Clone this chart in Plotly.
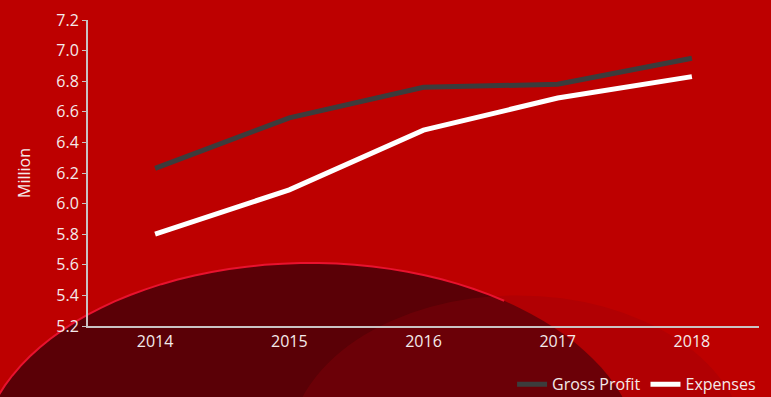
import numpy as np
import plotly.graph_objects as go

years = ["2014", "2015", "2016", "2017", "2018"]
gross_profit = [6.23, 6.56, 6.76, 6.78, 6.95]
expenses = [5.80, 6.09, 6.48, 6.69, 6.83]
y_ticks = [5.2, 5.4, 5.6, 5.8, 6.0, 6.2, 6.4, 6.6, 6.8, 7.0, 7.2]

font_family = "Open Sans, Noto Sans, sans-serif"
text_color = "#f4eaea"

fig = go.Figure()
fig.add_trace(go.Scatter(x=years, y=gross_profit, mode="lines", name="Gross Profit",
                         line=dict(color="#3c3c3c", width=5)))
fig.add_trace(go.Scatter(x=years, y=expenses, mode="lines", name="Expenses",
                         line=dict(color="#ffffff", width=5)))

# decorative background: dark region with glowing arc edge
ex0, ex1, ey0, ey1 = -0.161, 0.823, -1.088, 0.206
fig.add_shape(type="circle", xref="paper", yref="paper",
              x0=ex0, x1=ex1, y0=ey0, y1=ey1,
              fillcolor="#5a0006", line=dict(width=0), layer="below")
fig.add_shape(type="circle", xref="paper", yref="paper",
              x0=0.30, x1=0.98, y0=-0.9, y1=0.10,
              fillcolor="rgba(150,0,10,0.30)", line=dict(width=0), layer="below")
cx, cy, rx, ry = (ex0 + ex1) / 2, (ey0 + ey1) / 2, (ex1 - ex0) / 2, (ey1 - ey0) / 2
ang = np.linspace(np.pi * 0.98, np.pi * 0.30, 40)
pts = [f"{cx + rx * np.cos(a):.4f},{cy + ry * np.sin(a):.4f}" for a in ang]
fig.add_shape(type="path", xref="paper", yref="paper",
              path="M " + " L ".join(pts),
              line=dict(color="#e8122e", width=2), layer="below")

fig.update_layout(
    width=771, height=397,
    paper_bgcolor="#bd0000",
    plot_bgcolor="rgba(0,0,0,0)",
    margin=dict(l=88, r=12, t=20, b=71, autoexpand=False),
    font=dict(family=font_family, color=text_color, size=16),
    showlegend=True,
    legend=dict(orientation="h", x=0.632, xanchor="left", y=-0.135, yanchor="top",
                font=dict(size=16, color=text_color), bgcolor="rgba(0,0,0,0)",
                itemwidth=30),
    xaxis=dict(type="category", range=[-0.5, 4.5], showgrid=False, zeroline=False,
               showline=True, linecolor="#c9c3c3", linewidth=2, ticks="",
               tickfont=dict(size=16, color=text_color)),
    yaxis=dict(range=[5.2, 7.2], tickvals=y_ticks, ticktext=[f"{v:.1f}" for v in y_ticks],
               showgrid=False, zeroline=False, showline=True, linecolor="#c9c3c3",
               linewidth=2, ticks="outside", ticklen=4, tickcolor="#c9c3c3",
               tickfont=dict(size=16, color=text_color),
               title=dict(text="Million", font=dict(size=16, color=text_color), standoff=22)),
)

fig.write_html("out.html")
